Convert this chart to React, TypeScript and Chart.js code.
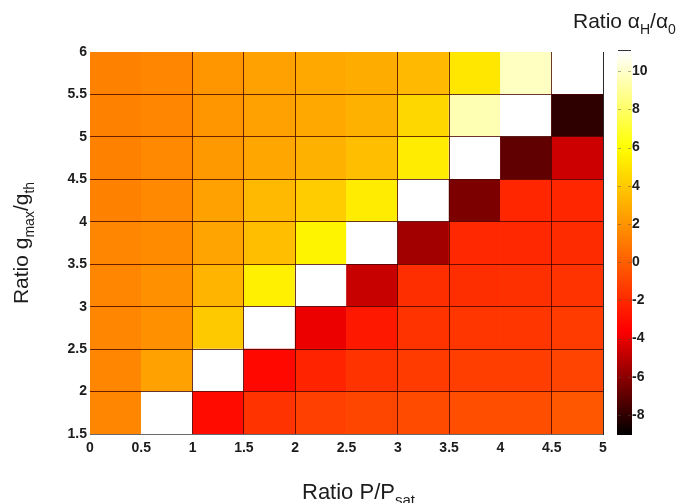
import React, { useEffect, useRef } from "react";
import { Chart, registerables } from "chart.js";

Chart.register(...registerables);

// Cell lower edges: P/Psat along x, gmax/gth along y (each cell is 0.5 wide/tall)
const pCellStarts = [0, 0.5, 1, 1.5, 2, 2.5, 3, 3.5, 4, 4.5];
const gCellStarts = [1.5, 2, 2.5, 3, 3.5, 4, 4.5, 5, 5.5];
const cellSize = 0.5;

// alphaH / alpha0 for each gmax/gth row, one value per P/Psat column
const alphaAtG1_5 = [1.5, 11, -3.1, -1.6, -1.1, -0.9, -0.7, -0.6, -0.6, -0.3];
const alphaAtG2_0 = [1.5, 2.5, 11, -3.2, -2.2, -1.6, -1.3, -1.2, -1.2, -1.0];
const alphaAtG2_5 = [1.5, 1.9, 4.0, 11, -3.9, -2.6, -1.6, -1.5, -1.5, -1.3];
const alphaAtG3_0 = [1.5, 1.9, 3.2, 5.4, 11, -4.7, -1.8, -1.8, -1.7, -1.6];
const alphaAtG3_5 = [1.5, 1.7, 2.6, 3.6, 5.6, 11, -5.5, -2.0, -2.0, -1.9];
const alphaAtG4_0 = [1.3, 1.6, 2.5, 3.4, 4.1, 5.3, 11, -6.3, -2.1, -2.1];
const alphaAtG4_5 = [1.3, 1.6, 2.2, 2.7, 3.1, 3.6, 5.3, 11, -6.9, -4.6];
const alphaAtG5_0 = [1.3, 1.5, 2.1, 2.5, 2.8, 3.1, 4.5, 9.5, 11, -8.0];
const alphaAtG5_5 = [1.3, 1.5, 2.1, 2.5, 2.8, 2.9, 3.4, 5.1, 9.8, 11];
const alphaRows = [
  alphaAtG1_5, alphaAtG2_0, alphaAtG2_5, alphaAtG3_0, alphaAtG3_5,
  alphaAtG4_0, alphaAtG4_5, alphaAtG5_0, alphaAtG5_5,
];

// Axis ticks
const pTicks = [0, 0.5, 1, 1.5, 2, 2.5, 3, 3.5, 4, 4.5, 5];
const pTickLabels = ["0", "0.5", "1", "1.5", "2", "2.5", "3", "3.5", "4", "4.5", "5"];
const gTicks = [1.5, 2, 2.5, 3, 3.5, 4, 4.5, 5, 5.5, 6];
const gTickLabels = ["1.5", "2", "2.5", "3", "3.5", "4", "4.5", "5", "5.5", "6"];
const alphaTicks = [-8, -6, -4, -2, 0, 2, 4, 6, 8, 10];
const alphaTickLabels = ["-8", "-6", "-4", "-2", "0", "2", "4", "6", "8", "10"];
const alphaMin = -9;
const alphaMax = 11;

// Grid lines shown inside the map
const pGridLines = [1, 1.5, 2, 3, 3.5, 4.5];
const gGridLines = [2, 2.5, 3, 3.5, 4, 4.5, 5, 5.5];

// "hot" colour map: black -> red -> yellow -> white
const cmapStops: [number, number, number, number][] = [
  [-9, 0, 0, 0],
  [-3.5, 255, 0, 0],
  [6, 255, 255, 0],
  [11, 255, 255, 255],
];

function hotColor(v: number): string {
  const x = Math.max(alphaMin, Math.min(alphaMax, v));
  for (let i = 1; i < cmapStops.length; i++) {
    const a = cmapStops[i - 1];
    const b = cmapStops[i];
    if (x <= b[0]) {
      const t = (x - a[0]) / (b[0] - a[0]);
      const r = Math.round(a[1] + (b[1] - a[1]) * t);
      const g = Math.round(a[2] + (b[2] - a[2]) * t);
      const bl = Math.round(a[3] + (b[3] - a[3]) * t);
      return `rgb(${r},${g},${bl})`;
    }
  }
  return "rgb(255,255,255)";
}

const TITLE_FAMILY = "'Liberation Sans', Arial, sans-serif";
const TITLE_SIZE = 22;
const SUB_SIZE = 15;
const SUB_DROP = 6;
const TEXT_COLOR = "#1c1c1c";
const GRID_COLOR = "rgba(70,5,0,0.8)";

type Run = { text: string; sub?: boolean };

const xTitleRuns: Run[] = [{ text: "Ratio P/P" }, { text: "sat", sub: true }];
const yTitleRuns: Run[] = [
  { text: "Ratio g" }, { text: "max", sub: true }, { text: "/g" }, { text: "th", sub: true },
];
const cbTitleRuns: Run[] = [
  { text: "Ratio α" }, { text: "H", sub: true }, { text: "/α" }, { text: "0", sub: true },
];

function runsWidth(ctx: CanvasRenderingContext2D, runs: Run[], size: number, subSize: number) {
  let w = 0;
  for (const r of runs) {
    ctx.font = `${r.sub ? subSize : size}px ${TITLE_FAMILY}`;
    w += ctx.measureText(r.text).width;
  }
  return w;
}

function drawRuns(ctx: CanvasRenderingContext2D, runs: Run[], x: number, y: number, size: number, subSize: number) {
  let cx = x;
  ctx.textAlign = "left";
  ctx.textBaseline = "alphabetic";
  for (const r of runs) {
    ctx.font = `${r.sub ? subSize : size}px ${TITLE_FAMILY}`;
    ctx.fillText(r.text, cx, r.sub ? y + SUB_DROP : y);
    cx += ctx.measureText(r.text).width;
  }
}

const titlesPlugin = {
  id: "axisTitles",
  afterDraw(chart: any) {
    const ctx: CanvasRenderingContext2D = chart.ctx;
    const area = chart.chartArea;
    ctx.save();
    ctx.fillStyle = TEXT_COLOR;
    // x title
    drawRuns(ctx, xTitleRuns, area.left + 212, area.bottom + 65, TITLE_SIZE, SUB_SIZE);
    // y title, rotated and centred on the plot height
    const yw = runsWidth(ctx, yTitleRuns, 21, 14);
    ctx.save();
    ctx.translate(28, (area.top + area.bottom) / 2 + yw / 2);
    ctx.rotate(-Math.PI / 2);
    drawRuns(ctx, yTitleRuns, 0, 0, 21, 14);
    ctx.restore();
    // colour bar title
    drawRuns(ctx, cbTitleRuns, area.right - 30, 28, 21, 14);
    ctx.restore();
  },
};

const colorbarPlugin = {
  id: "alphaColorbar",
  afterDraw(chart: any) {
    const ctx: CanvasRenderingContext2D = chart.ctx;
    const s = chart.scales.cb;
    const x0 = chart.chartArea.right + 14;
    const w = 15;
    const yTop = s.getPixelForValue(alphaMax);
    const yBot = s.getPixelForValue(alphaMin) + 1;
    ctx.save();
    const grad = ctx.createLinearGradient(0, yBot, 0, yTop);
    cmapStops.forEach(([v, r, g, b]) => {
      grad.addColorStop((v - alphaMin) / (alphaMax - alphaMin), `rgb(${r},${g},${b})`);
    });
    ctx.fillStyle = grad;
    ctx.fillRect(x0, yTop, w, yBot - yTop);
    // small tick marks on both edges of the bar
    ctx.strokeStyle = "rgba(80,80,80,0.45)";
    ctx.lineWidth = 1;
    alphaTicks.forEach((v) => {
      const y = Math.round(s.getPixelForValue(v)) + 0.5;
      ctx.beginPath();
      ctx.moveTo(x0 + 1, y);
      ctx.lineTo(x0 + 4, y);
      ctx.moveTo(x0 + w - 4, y);
      ctx.lineTo(x0 + w - 1, y);
      ctx.stroke();
    });
    // rule above the bar
    ctx.strokeStyle = "#333";
    ctx.beginPath();
    ctx.moveTo(x0 + 1, yTop - 1.5);
    ctx.lineTo(x0 + w - 1, yTop - 1.5);
    ctx.stroke();
    ctx.restore();
  },
};

const tickFont = { family: TITLE_FAMILY, size: 14, weight: "bold" as const };

export default function App() {
  const canvasRef = useRef<HTMLCanvasElement | null>(null);

  useEffect(() => {
    if (!canvasRef.current) return;
    const datasets = gCellStarts.map((g0, r) => ({
      type: "bar" as const,
      label: `gmax/gth ${g0}`,
      data: pCellStarts.map((p0) => ({ x: p0 + cellSize / 2, y: [g0, g0 + cellSize] })),
      backgroundColor: alphaRows[r].map(hotColor),
      borderWidth: 0,
      barPercentage: 1,
      categoryPercentage: 1,
      grouped: false,
      xAxisID: "x",
      yAxisID: "y",
    }));

    const chart = new Chart(canvasRef.current, {
      type: "bar",
      data: { datasets: datasets as any },
      options: {
        animation: false,
        responsive: false,
        devicePixelRatio: 1,
        layout: { padding: { top: 52, left: 0, right: 0, bottom: 0 } },
        plugins: { legend: { display: false }, tooltip: { enabled: false } },
        scales: {
          x: {
            type: "linear",
            position: "bottom",
            min: 0,
            max: 5,
            offset: false,
            afterBuildTicks: (s: any) => {
              s.ticks = pTicks.map((v) => ({ value: v }));
            },
            afterFit: (s: any) => {
              s.height = 69;
            },
            grid: {
              z: 1,
              offset: false,
              drawTicks: false,
              lineWidth: 1,
              color: (c: any) =>
                c.tick && pGridLines.includes(c.tick.value) ? GRID_COLOR : "rgba(0,0,0,0)",
            },
            border: { display: true, color: "#6a6a6a", width: 1, z: 1 },
            ticks: {
              autoSkip: false,
              maxRotation: 0,
              padding: 6,
              color: TEXT_COLOR,
              font: tickFont,
              callback: (_v: any, i: number) => pTickLabels[i],
            },
          },
          y: {
            type: "linear",
            position: "left",
            min: 1.5,
            max: 6,
            afterBuildTicks: (s: any) => {
              s.ticks = gTicks.map((v) => ({ value: v }));
            },
            afterFit: (s: any) => {
              s.width = 90;
            },
            grid: {
              z: 1,
              offset: false,
              drawTicks: false,
              lineWidth: 1,
              color: (c: any) =>
                c.tick && gGridLines.includes(c.tick.value) ? GRID_COLOR : "rgba(0,0,0,0)",
            },
            border: { display: false },
            ticks: {
              autoSkip: false,
              padding: 3,
              color: TEXT_COLOR,
              font: tickFont,
              callback: (_v: any, i: number) => gTickLabels[i],
            },
          },
          cb: {
            type: "linear",
            position: "right",
            min: alphaMin,
            max: alphaMax,
            afterBuildTicks: (s: any) => {
              s.ticks = alphaTicks.map((v) => ({ value: v }));
            },
            afterFit: (s: any) => {
              s.width = 76;
            },
            grid: { display: false, drawTicks: false },
            border: { display: true, color: "#2a2a2a", width: 1, z: 1 },
            ticks: {
              autoSkip: false,
              padding: 29,
              color: TEXT_COLOR,
              font: tickFont,
              callback: (_v: any, i: number) => alphaTickLabels[i],
            },
          },
        },
      } as any,
      plugins: [colorbarPlugin, titlesPlugin],
    });
    return () => chart.destroy();
  }, []);

  return (
    <div style={{ position: "fixed", left: 0, top: 0, width: 679, height: 503, background: "#fff" }}>
      <canvas ref={canvasRef} width={679} height={503} style={{ display: "block" }} />
    </div>
  );
}
